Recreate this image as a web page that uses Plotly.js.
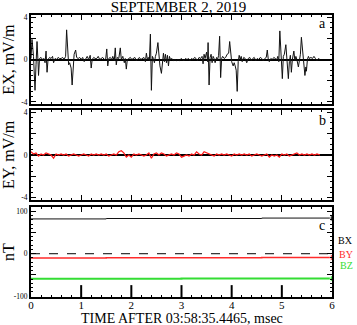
<!DOCTYPE html>
<html>
<head>
<meta charset="utf-8">
<script src="https://cdn.plot.ly/plotly-3.0.1.min.js"></script>
<style>html,body{margin:0;padding:0;background:#fff;}#chart{width:357px;height:325px;}</style>
</head>
<body>
<div id="chart"></div>
<script>
// ---- data ----
const exT = [0.00,0.02,0.05,0.08,0.10,0.12,0.14,0.15,0.17,0.20,0.23,0.26,0.28,0.30,0.32,0.34,0.37,0.40,0.43,0.45,0.48,0.51,0.54,0.57,0.60,0.63,0.66,0.69,0.71,0.73,0.75,0.77,0.80,0.82,0.84,0.86,0.89,0.91,0.94,0.97,1.00,1.03,1.06,1.09,1.12,1.15,1.18,1.20,1.22,1.25,1.28,1.31,1.34,1.37,1.40,1.43,1.46,1.49,1.51,1.53,1.55,1.58,1.61,1.63,1.66,1.68,1.70,1.72,1.75,1.78,1.80,1.83,1.86,1.88,1.90,1.92,1.95,1.98,2.01,2.04,2.07,2.10,2.13,2.16,2.19,2.22,2.25,2.28,2.30,2.32,2.34,2.36,2.38,2.40,2.42,2.44,2.46,2.48,2.50,2.53,2.55,2.57,2.60,2.62,2.64,2.66,2.68,2.70,2.72,2.74,2.76,2.78,2.81,2.84,2.87,2.90,2.93,2.96,2.99,3.02,3.05,3.08,3.11,3.14,3.17,3.20,3.23,3.26,3.29,3.32,3.35,3.38,3.41,3.43,3.45,3.47,3.50,3.52,3.53,3.55,3.57,3.59,3.61,3.63,3.65,3.67,3.70,3.72,3.74,3.76,3.78,3.80,3.82,3.85,3.88,3.91,3.94,3.96,3.98,4.00,4.03,4.05,4.07,4.09,4.11,4.13,4.15,4.17,4.19,4.21,4.24,4.27,4.30,4.33,4.36,4.39,4.42,4.45,4.48,4.51,4.54,4.57,4.60,4.63,4.66,4.69,4.71,4.73,4.75,4.78,4.81,4.84,4.87,4.90,4.92,4.94,4.96,4.99,5.01,5.03,5.05,5.08,5.10,5.13,5.15,5.17,5.19,5.21,5.24,5.26,5.28,5.30,5.33,5.35,5.37,5.39,5.41,5.43,5.46,5.48,5.49,5.51,5.53,5.55,5.58,5.61,5.64,5.67,5.70,5.73,5.76];
const exV = [0.1,1.9,0.3,-2.9,-0.5,1.7,-0.2,-1.5,0.1,0.2,0.0,0.1,-0.3,0.8,-1.2,0.0,0.2,0.1,0.3,-0.3,0.1,0.0,0.2,0.1,0.1,0.2,0.0,0.3,2.8,0.2,-0.5,-0.3,-0.8,-2.4,-0.2,0.5,0.9,0.2,0.1,0.2,0.0,0.2,-0.2,0.1,0.3,0.0,0.4,-0.8,0.0,0.2,0.1,0.1,0.3,0.0,0.1,0.2,0.0,0.1,1.0,-0.6,0.1,0.2,0.0,0.3,-0.1,1.1,-0.5,0.2,0.1,1.1,0.0,0.3,-0.3,0.1,-0.9,0.0,0.1,0.2,0.0,0.1,0.2,-0.1,0.1,0.2,0.0,0.1,0.2,-0.2,0.6,0.0,0.2,-0.1,2.4,-2.9,0.3,0.1,-0.3,0.3,0.6,1.6,0.4,-0.6,-1.3,-0.4,0.6,-0.2,0.5,-0.3,0.4,-0.6,0.3,0.0,0.1,-0.1,0.0,-0.1,0.0,-0.1,0.1,0.0,-0.1,0.1,0.0,0.1,-0.1,0.1,0.0,0.2,0.1,-0.1,0.2,0.1,0.3,-0.4,0.5,0.1,0.7,-0.2,1.6,-2.4,0.2,0.5,-0.3,0.3,0.1,-0.3,0.2,0.0,0.4,2.2,-1.7,0.1,0.3,0.1,0.2,0.5,0.6,1.7,0.6,-0.2,-0.6,-0.3,-0.6,-1.0,-3.0,-0.2,0.4,0.0,0.3,-0.2,0.2,0.1,-0.3,0.1,0.2,-0.1,0.1,0.2,-0.1,0.1,0.0,0.2,0.1,-0.1,0.1,0.2,0.9,0.0,-0.2,0.1,0.0,0.2,0.1,0.0,0.3,-0.2,2.7,0.5,-1.8,0.3,0.5,1.4,0.3,-1.8,-0.2,0.4,-1.2,0.0,0.8,-0.1,0.3,0.0,-0.7,0.1,0.5,2.1,0.8,0.2,-1.5,-0.7,-1.1,0.0,0.3,0.1,0.2,0.1,0.3,0.1,-0.1,0.1,0.0];

const eyT = [0.00,0.05,0.10,0.15,0.20,0.25,0.30,0.35,0.40,0.45,0.50,0.55,0.60,0.65,0.70,0.75,0.80,0.85,0.90,0.95,1.00,1.05,1.10,1.15,1.20,1.25,1.30,1.35,1.40,1.45,1.50,1.55,1.60,1.65,1.70,1.75,1.80,1.85,1.90,1.95,2.00,2.05,2.10,2.15,2.20,2.25,2.30,2.35,2.40,2.45,2.50,2.55,2.60,2.65,2.70,2.75,2.80,2.85,2.90,2.95,3.00,3.05,3.10,3.15,3.20,3.25,3.30,3.35,3.40,3.45,3.50,3.55,3.60,3.65,3.70,3.75,3.80,3.85,3.90,3.95,4.00,4.05,4.10,4.15,4.20,4.25,4.30,4.35,4.40,4.45,4.50,4.55,4.60,4.65,4.70,4.75,4.80,4.85,4.90,4.95,5.00,5.05,5.10,5.15,5.20,5.25,5.30,5.35,5.40,5.45,5.50,5.55,5.60,5.65,5.70,5.76];
const eyV = [0.3,0.1,0.2,-0.1,0.1,0.0,0.2,0.1,0.0,-0.3,0.1,0.0,0.1,0.0,0.1,-0.1,0.0,0.1,0.0,-0.1,0.0,0.1,0.0,-0.1,0.1,0.0,0.1,0.0,0.1,0.0,0.1,-0.1,0.0,0.1,0.0,0.3,0.4,0.2,-0.2,0.0,-0.2,0.1,0.0,0.1,0.0,-0.1,0.0,0.2,-0.3,0.1,0.2,0.0,0.2,0.1,-0.1,0.0,0.1,0.0,0.2,0.1,-0.2,-0.1,0.0,-0.1,0.1,0.0,0.3,0.1,0.0,0.3,0.2,0.1,0.0,-0.1,0.1,0.0,0.1,0.0,0.1,0.0,-0.1,0.1,0.0,0.1,0.0,0.1,0.0,0.1,-0.1,0.0,0.1,0.0,-0.1,0.0,0.1,-0.2,0.0,-0.1,0.0,-0.2,0.1,0.0,0.1,-0.1,0.0,0.1,0.2,0.0,0.1,0.0,0.1,0.0,0.1,0.0,0.1,0.0];

const bxT = [0, 1.5, 4.6, 6.0];
const bxV = [82, 83, 84, 84];
const byT = [0, 1.5, 4.6, 6.0];
const byV = [-10, -9.5, -9, -9];
const bzT = [0, 3.0, 6.0];
const bzV = [-59, -58.5, -58.5];

const markT = [1, 2, 3, 4, 5];
const markTop = -74;

const xTickVals = [0,1,2,3,4,5,6];
const eTickVals = [-4,-2,0,2,4];
const eTickText = ['-4','','0','','4'];
const bTickVals = [-100,-50,0,50,100];
const bTickText = ['-100','','0','','100'];

// ---- build ----
const serif = 'Liberation Serif, Times New Roman, serif';
const cRange = [-102, 110];

const markX = [], markY = [];
markT.forEach(t => { markX.push(t, t, null); markY.push(markTop, cRange[0], null); });

function endArrow(n){ const s = []; for (let i=0;i<n;i++) s.push(i===n-1?7:0); return s; }

const traces = [
  {x: exT, y: exV, xaxis:'x', yaxis:'y', mode:'lines', line:{color:'#111', width:1}, hoverinfo:'skip'},
  {x: eyT, y: eyV, xaxis:'x2', yaxis:'y2', mode:'lines', line:{color:'#ff1a1a', width:1.2}, hoverinfo:'skip'},
  {x: bxT, y: bxV, xaxis:'x3', yaxis:'y3', mode:'lines+markers', line:{color:'#111', width:1, shape:'hv'}, marker:{symbol:'triangle-right', size:endArrow(bxT.length), color:'#111'}},
  {x: byT, y: byV, xaxis:'x3', yaxis:'y3', mode:'lines+markers', line:{color:'#ff2a2a', width:1.5, shape:'hv'}, marker:{symbol:'triangle-right', size:endArrow(byT.length), color:'#ff2a2a'}},
  {x: bzT, y: bzV, xaxis:'x3', yaxis:'y3', mode:'lines+markers', line:{color:'#33dd33', width:2, shape:'hv'}, marker:{symbol:'triangle-right', size:endArrow(bzT.length), color:'#33dd33'}},
  {x: markX, y: markY, xaxis:'x3', yaxis:'y3', mode:'lines', line:{color:'#000', width:2}}
];

function xax(anchor, showLabels){
  return {
    anchor: anchor, range:[0,6], tickvals: xTickVals, showticklabels: showLabels,
    ticks:'inside', ticklen:5, tickwidth:1, tickcolor:'#000',
    minor:{dtick:0.2, ticks:'inside', ticklen:2, tickcolor:'#000', tickwidth:1},
    showline:true, linewidth:2, linecolor:'#000', mirror:'allticks',
    showgrid:false, zeroline:false, automargin:false,
    ticklabelstandoff:-3,
    tickfont:{family:serif, size:11, color:'#000'}
  };
}
function yax(domain, range, tv, tt, title, zl){
  return {
    domain: domain, range: range, tickvals: tv, ticktext: tt,
    ticks:'inside', ticklen:5, tickwidth:1, tickcolor:'#000',
    minor:{dtick:(range[1]-range[0])>50?10:0.5, ticks:'inside', ticklen:2, tickcolor:'#000', tickwidth:1},
    showline:true, linewidth:2, linecolor:'#000', mirror:'allticks',
    showgrid:false, zeroline: zl, zerolinecolor:'#000', zerolinewidth:2,
    automargin:false,
    tickfont:{family:serif, size:7.5, color:'#000'},
    title:{text:title, font:{family:serif, size:16, color:'#000'}, standoff:5}
  };
}

const layout = {
  width:357, height:325,
  margin:{l:31, r:25, t:15, b:28},
  paper_bgcolor:'#fff', plot_bgcolor:'#fff',
  showlegend:false,
  title:{text:'SEPTEMBER 2, 2019', font:{family:serif, size:15, color:'#000'}, x:0.5, xanchor:'center', xref:'container', yref:'container', y:0.978, yanchor:'middle'},
  xaxis: xax('y', false),
  xaxis2: xax('y2', false),
  xaxis3: xax('y3', true),
  yaxis: yax([0.684,1.0], [-4.2,4.2], eTickVals, eTickText, 'EX, mV/m', true),
  yaxis2: yax([0.344,0.663], [-4.2,4.2], eTickVals, eTickText, 'EY, mV/m', true),
  yaxis3: yax([0,0.319], cRange, bTickVals, bTickText, 'nT', false),
  shapes:[
    {type:'line', xref:'x3 domain', yref:'y3', x0:0, x1:1, y0:0, y1:0, line:{color:'#000', width:1, dash:'dash'}}
  ],
  annotations:[
    {text:'TIME AFTER 03:58:35.4465, msec', xref:'x3 domain', yref:'paper', x:0.5, y:-0.075, xanchor:'center', yanchor:'middle', showarrow:false, font:{family:serif, size:14, color:'#000'}},
    {text:'a', xref:'x domain', yref:'y domain', x:0.967, y:0.91, xanchor:'center', yanchor:'middle', showarrow:false, font:{family:serif, size:14, color:'#000'}},
    {text:'b', xref:'x2 domain', yref:'y2 domain', x:0.967, y:0.88, xanchor:'center', yanchor:'middle', showarrow:false, font:{family:serif, size:14, color:'#000'}},
    {text:'c', xref:'x3 domain', yref:'y3 domain', x:0.967, y:0.80, xanchor:'center', yanchor:'middle', showarrow:false, font:{family:serif, size:14, color:'#000'}},
    {text:'BX', xref:'paper', yref:'paper', x:1.076, y:0.199, xanchor:'right', yanchor:'middle', showarrow:false, font:{family:serif, size:10, color:'#000'}},
    {text:'BY', xref:'paper', yref:'paper', x:1.076, y:0.152, xanchor:'right', yanchor:'middle', showarrow:false, font:{family:serif, size:10, color:'#ff2a2a'}},
    {text:'BZ', xref:'paper', yref:'paper', x:1.076, y:0.110, xanchor:'right', yanchor:'middle', showarrow:false, font:{family:serif, size:10, color:'#33dd33'}}
  ]
};

Plotly.newPlot('chart', traces, layout, {staticPlot:true, displayModeBar:false});
</script>
</body>
</html>
